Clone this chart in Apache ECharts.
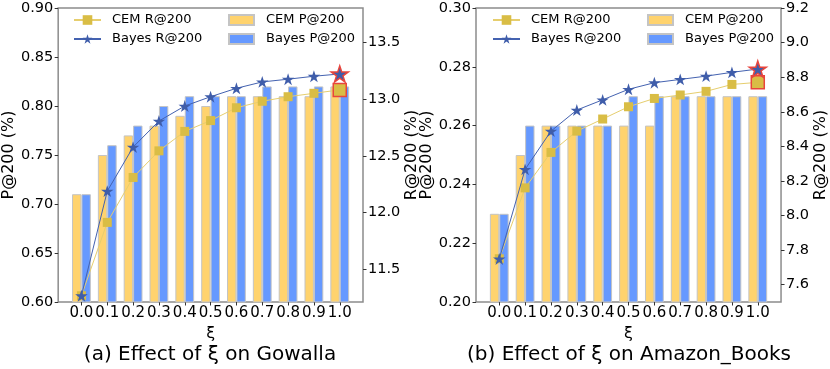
<!DOCTYPE html>
<html>
<head>
<meta charset="utf-8">
<script src="https://cdn.jsdelivr.net/npm/echarts@6/dist/echarts.min.js"></script>
<style>html,body{margin:0;padding:0;background:#fff}#c{width:830px;height:369px}</style>
</head>
<body>
<div id="c"></div>
<script>
// ---- data ----
const xiValues = [0.0, 0.1, 0.2, 0.3, 0.4, 0.5, 0.6, 0.7, 0.8, 0.9, 1.0];

const gowallaCemP   = [0.71, 0.75, 0.77, 0.78, 0.79, 0.80, 0.81, 0.81, 0.81, 0.81, 0.82];
const gowallaBayesP = [0.71, 0.76, 0.78, 0.80, 0.81, 0.81, 0.81, 0.82, 0.82, 0.82, 0.82];
const gowallaCemR   = [11.27, 11.915, 12.31, 12.544, 12.715, 12.81, 12.923, 12.98, 13.02, 13.05, 13.08];
const gowallaBayesR = [11.27, 12.19, 12.577, 12.806, 12.938, 13.02, 13.094, 13.15, 13.174, 13.2, 13.22];

const amazonCemP    = [0.23, 0.25, 0.26, 0.26, 0.26, 0.26, 0.26, 0.27, 0.27, 0.27, 0.27];
const amazonBayesP  = [0.23, 0.26, 0.26, 0.26, 0.26, 0.27, 0.27, 0.27, 0.27, 0.27, 0.27];
const amazonCemR    = [7.75, 8.160, 8.365, 8.488, 8.558, 8.629, 8.677, 8.697, 8.718, 8.758, 8.770];
const amazonBayesR  = [7.749, 8.267, 8.488, 8.610, 8.669, 8.730, 8.768, 8.787, 8.806, 8.828, 8.847];

const gowallaPTicks = [0.60, 0.65, 0.70, 0.75, 0.80, 0.85, 0.90];
const gowallaRTicks = [11.5, 12.0, 12.5, 13.0, 13.5];
const amazonPTicks  = [0.20, 0.22, 0.24, 0.26, 0.28, 0.30];
const amazonRTicks  = [7.6, 7.8, 8.0, 8.2, 8.4, 8.6, 8.8, 9.0, 9.2];

const titles = ['(a) Effect of ξ on Gowalla', '(b) Effect of ξ on Amazon_Books'];
const names = {cemR: 'CEM R@200', bayesR: 'Bayes R@200', cemP: 'CEM P@200', bayesP: 'Bayes P@200'};

// ---- styles ----
const FONT = 'DejaVu Sans';
const YEL = '#FFD36E', BLU = '#6699FF', EDGE = '#c4c4c4';
const CEM_LINE = '#E6CE6E', CEM_MK = '#D9BD45';
const BAY_LINE = '#4462B0', BAY_MK = '#3F5DAA';
const RED = '#E8453C';
const FRAME = '#8c8c8c';
const STAR = 'path://M0,-1L0.2245,-0.309L0.951,-0.309L0.363,0.118L0.588,0.809L0,0.382L-0.588,0.809L-0.363,0.118L-0.951,-0.309L-0.2245,-0.309Z';

const pairs = (xs, ys) => xs.map((x, i) => [x, ys[i]]);
function linePairs(ys, bigSize) {
  return xiValues.map((x, i) => {
    if (i === xiValues.length - 1) {
      return {value: [x, ys[i]], symbolSize: bigSize, itemStyle: {borderColor: RED, borderWidth: 1.5}};
    }
    return [x, ys[i]];
  });
}

const grids = [
  {left: 57, top: 8, width: 306, height: 294, show: true, borderColor: FRAME, borderWidth: 1.5, backgroundColor: 'transparent'},
  {left: 476, top: 8, width: 307, height: 294, show: true, borderColor: FRAME, borderWidth: 1.5, backgroundColor: 'transparent'}
];

function xAxis(gi) {
  return {
    type: 'value', gridIndex: gi, min: -0.09, max: 1.09,
    name: 'ξ', nameLocation: 'middle', nameGap: 13,
    nameTextStyle: {fontFamily: FONT, fontSize: 16, color: '#000'},
    axisLine: {show: false, onZero: false},
    axisTick: {show: true, inside: false, length: 3.5, lineStyle: {color: '#333'}, customValues: xiValues},
    axisLabel: {customValues: xiValues, formatter: v => v.toFixed(1), fontFamily: FONT, fontSize: 15, color: '#000', margin: 4},
    splitLine: {show: false}
  };
}
function yAxis(gi, pos, min, max, ticks, name, gap, dec) {
  return {
    type: 'value', gridIndex: gi, position: pos, min: min, max: max,
    name: name, nameLocation: 'middle', nameGap: gap, nameRotate: 90,
    nameTextStyle: {fontFamily: FONT, fontSize: 16, color: '#000'},
    axisLine: {show: false, onZero: false},
    axisTick: {show: true, inside: false, length: 3.5, lineStyle: {color: '#333'}, customValues: ticks},
    axisLabel: {customValues: ticks, formatter: v => v.toFixed(dec), fontFamily: FONT, fontSize: 14.5, color: '#000', margin: 5},
    splitLine: {show: false}
  };
}

function barSeries(name, xi, yi, data, color) {
  return {
    type: 'bar', name: name, xAxisIndex: xi, yAxisIndex: yi,
    data: pairs(xiValues, data), barWidth: 9.4, barGap: '0%',
    itemStyle: {color: color, borderColor: EDGE, borderWidth: 1},
    z: 1, clip: true
  };
}
function lineSeries(name, xi, yi, data, isStar) {
  return {
    type: 'line', name: name, xAxisIndex: xi, yAxisIndex: yi,
    data: linePairs(data, isStar ? 17 : 13),
    symbol: isStar ? STAR : 'rect', symbolKeepAspect: true,
    symbolSize: isStar ? 12.5 : 9,
    lineStyle: {color: isStar ? BAY_LINE : CEM_LINE, width: 1},
    itemStyle: {color: isStar ? BAY_MK : CEM_MK},
    z: isStar ? 4 : 3, clip: false
  };
}

function legends(left0) {
  const base = {orient: 'vertical', padding: 0, top: 13, itemGap: 5,
    textStyle: {fontFamily: FONT, fontSize: 13, color: '#000', lineHeight: 14}};
  return [
    Object.assign({}, base, {left: left0 + 16, itemWidth: 27, itemHeight: 12,
      data: [names.cemR, names.bayesR],
      textStyle: Object.assign({}, base.textStyle, {padding: [0, 0, 0, 6]})}),
    Object.assign({}, base, {left: left0 + 171, itemWidth: 25, itemHeight: 10, icon: 'rect',
      data: [names.cemP, names.bayesP],
      textStyle: Object.assign({}, base.textStyle, {padding: [0, 0, 0, 7]})})
  ];
}

const option = {
  animation: false,
  backgroundColor: '#fff',
  textStyle: {fontFamily: FONT},
  title: [
    {text: titles[0], left: 210, top: 345, textAlign: 'center', padding: 0,
     textStyle: {fontFamily: FONT, fontSize: 20, fontWeight: 'normal', color: '#000'}},
    {text: titles[1], left: 629, top: 345, textAlign: 'center', padding: 0,
     textStyle: {fontFamily: FONT, fontSize: 20, fontWeight: 'normal', color: '#000'}}
  ],
  legend: legends(57).concat(legends(476)),
  grid: grids,
  xAxis: [xAxis(0), xAxis(1)],
  yAxis: [
    yAxis(0, 'left', 0.60, 0.90, gowallaPTicks, 'P@200 (%)', 39, 2),
    yAxis(0, 'right', 11.215, 13.80, gowallaRTicks, 'R@200 (%)', 37, 1),
    yAxis(1, 'left', 0.20, 0.30, amazonPTicks, 'P@200 (%)', 39, 2),
    yAxis(1, 'right', 7.5, 9.2, amazonRTicks, 'R@200 (%)', 27, 1)
  ],
  series: [
    barSeries(names.cemP, 0, 0, gowallaCemP, YEL),
    barSeries(names.bayesP, 0, 0, gowallaBayesP, BLU),
    lineSeries(names.cemR, 0, 1, gowallaCemR, false),
    lineSeries(names.bayesR, 0, 1, gowallaBayesR, true),
    barSeries(names.cemP, 1, 2, amazonCemP, YEL),
    barSeries(names.bayesP, 1, 2, amazonBayesP, BLU),
    lineSeries(names.cemR, 1, 3, amazonCemR, false),
    lineSeries(names.bayesR, 1, 3, amazonBayesR, true)
  ]
};

const chart = echarts.init(document.getElementById('c'), null, {renderer: 'canvas'});
chart.setOption(option);
</script>
</body>
</html>
